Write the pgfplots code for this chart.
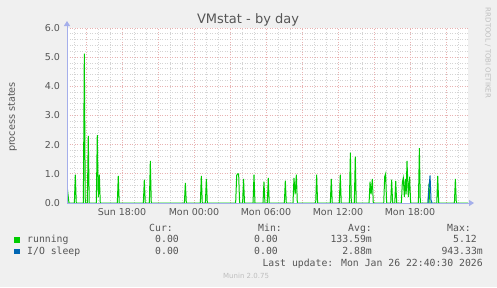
\documentclass[border=0pt]{standalone}
\usepackage{pgfplots}
\pgfplotsset{compat=1.18}
\usetikzlibrary{arrows.meta}
\usepackage{fontspec}
\setmainfont{DejaVu Sans}
\newfontfamily\monof{DejaVu Sans Mono}
\definecolor{bgc}{RGB}{240,240,240}
\definecolor{txt}{RGB}{85,85,85}
\definecolor{axc}{RGB}{165,175,235}
\definecolor{mgrid}{RGB}{232,178,178}
\definecolor{ngrid}{RGB}{212,212,212}
\definecolor{runc}{RGB}{0,204,0}
\definecolor{ioc}{RGB}{0,102,179}
\definecolor{wm}{RGB}{190,190,190}
\begin{document}
\begin{tikzpicture}[x=1pt,y=1pt]
\fill[bgc] (0,0) rectangle (497,287);
\begin{axis}[
 at={(67pt,84pt)}, anchor=south west,
 width=401pt, height=175pt, scale only axis,
 xmin=-10.583, xmax=22.833, ymin=0, ymax=6,
 axis background/.style={fill=white},
 axis line style={draw=none},
 tick style={draw=none},
 xtick={-6,0,6,12,18},
 xticklabels={Sun 18:00, Mon 00:00, Mon 06:00, Mon 12:00, Mon 18:00},
 extra x ticks={-9,-3,3,9,15,21},
 extra x tick labels={},
 extra x tick style={grid=major},
 minor xtick={-10,...,22},
 ytick={0,1,2,3,4,5,6},
 minor ytick={0.2,0.4,...,5.9},
 grid=both,
 major grid style={color=mgrid, line width=0.7pt, dash pattern=on 1pt off 1.5pt},
 minor grid style={color=ngrid, line width=0.7pt, dash pattern=on 1pt off 1.5pt},
 /pgf/number format/assume math mode=true,
 yticklabel={\pgfmathprintnumber[fixed,precision=1,zerofill]{\tick}},
 ticklabel style={font=\fontsize{9.5}{11}\selectfont, text=txt},
 xticklabel style={yshift=-2pt},
 yticklabel style={xshift=-3.5pt},
 clip mode=individual,
]
\addplot[color=runc, line width=1pt] coordinates {
(-10.583,0.62) (-10.5,0.3) (-10.42,0)
(-9.97,0) (-9.89,0.97) (-9.81,0)
(-9.22,0) (-9.14,5.12) (-9.06,0)
(-8.89,0) (-8.81,2.30) (-8.73,0)
(-8.14,0) (-8.06,2.33) (-7.97,0.2) (-7.89,0.97) (-7.81,0)
(-6.39,0) (-6.31,0.93) (-6.23,0)
(-4.22,0) (-4.14,0.80) (-4.06,0)
(-3.72,0) (-3.64,1.44) (-3.56,0)
(-0.80,0) (-0.72,0.69) (-0.64,0)
(0.53,0) (0.61,0.93) (0.69,0)
(0.95,0) (1.03,0.83) (1.11,0)
(3.47,0) (3.56,0.95) (3.64,1.0) (3.72,1.0) (3.80,0)
(4.05,0) (4.13,0.83) (4.21,0)
(4.92,0) (5.0,0.97) (5.08,0)
(5.75,0) (5.83,0.73) (5.91,0)
(6.11,0) (6.19,0.86) (6.27,0)
(7.53,0) (7.61,0.77) (7.69,0)
(8.25,0) (8.33,0.86) (8.43,0.3) (8.53,0.97) (8.61,0)
(10.14,0) (10.22,0.97) (10.30,0)
(11.36,0) (11.44,0.83) (11.52,0)
(12.11,0) (12.19,0.97) (12.27,0)
(12.95,0) (13.03,1.73) (13.11,0)
(13.36,0) (13.44,1.59) (13.52,0)
(14.59,0) (14.67,0.73) (14.76,0.3) (14.86,0.83) (14.94,0)
(15.81,0) (15.89,0.9) (15.97,1.0) (16.05,0)
(16.39,0) (16.47,0.8) (16.55,0)
(16.73,0) (16.81,0.76) (16.89,0)
(17.28,0) (17.36,0.7) (17.44,0.86) (17.53,0.2) (17.61,0.83) (17.68,0.3) (17.75,1.44) (17.86,0.2) (17.97,0.9) (18.05,0)
(18.70,0) (18.78,1.88) (18.86,0)
(19.50,0) (19.58,0.66) (19.66,0)
(20.23,0) (20.31,0.93) (20.39,0)
(21.70,0) (21.78,0.83) (21.86,0)
(22.833,0)
};
\addplot[color=ioc, line width=1pt] coordinates {
(19.50,0) (19.58,0.5) (19.67,0.943) (19.75,0.1) (19.83,0)
};
\draw[axc, line width=1pt, -{Triangle[width=6pt,length=5pt]}] (rel axis cs:0,0) -- ([xshift=6pt]rel axis cs:1,0);
\draw[axc, line width=1pt, -{Triangle[width=6pt,length=5pt]}] (rel axis cs:0,0) -- ([yshift=7pt]rel axis cs:0,1);
\end{axis}
% title and labels
\node[anchor=base, text=txt, font=\fontsize{13}{15}\selectfont] at (248,263) {VMstat - by day};
\node[rotate=90, text=txt, font=\fontsize{9.7}{11}\selectfont] at (12.5,170) {process states};
\node[rotate=-90, text=wm, font=\fontsize{7}{8}\selectfont] at (488,234) {RRDTOOL / TOBI OETIKER};
% legend
\fill[runc] (14,44.5) rectangle (19.5,50);
\fill[ioc] (14,33) rectangle (19.5,38.5);
\begin{scope}[every node/.style={text=txt, font=\monof\fontsize{9.8}{11}\selectfont, inner sep=0pt}]
\node[anchor=base west] at (149,55.4) {Cur:};
\node[anchor=base west] at (258,55.4) {Min:};
\node[anchor=base west] at (348,55.4) {Avg:};
\node[anchor=base west] at (447,55.4) {Max:};
\node[anchor=base west] at (27,44.4) {running};
\node[anchor=base east] at (179,44.4) {0.00};
\node[anchor=base east] at (278,44.4) {0.00};
\node[anchor=base east] at (372,44.4) {133.59m};
\node[anchor=base east] at (477,44.4) {5.12};
\node[anchor=base west] at (27,32.4) {I/O sleep};
\node[anchor=base east] at (179,32.4) {0.00};
\node[anchor=base east] at (278,32.4) {0.00};
\node[anchor=base east] at (372,32.4) {2.88m};
\node[anchor=base east] at (483,32.4) {943.33m};
\node[anchor=base east] at (483,20.4) {Last update: Mon Jan 26 22:40:30 2026};
\end{scope}
\node[anchor=base west, inner sep=0pt, text=wm, font=\fontsize{7}{8}\selectfont] at (223,8.5) {Munin 2.0.75};
\pgfresetboundingbox
\path (0,0) rectangle (497,287);
\end{tikzpicture}
\end{document}
